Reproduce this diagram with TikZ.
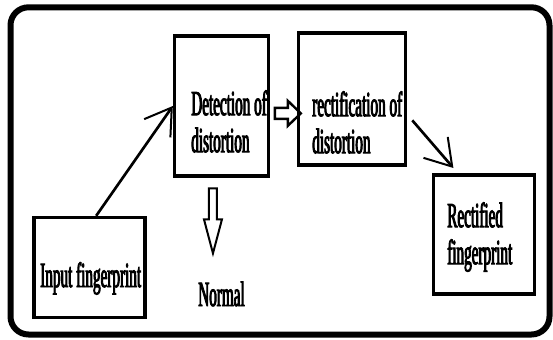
\documentclass[tikz,border=0pt]{standalone}
\usepackage{fontspec}
\usepackage{xcolor}
\usetikzlibrary{arrows.meta,calc}
\newfontfamily\narrowserif[FakeStretch=0.43,FakeBold=2.5]{Liberation Serif}
\tikzset{
  box/.style={draw, line width=2.5pt, inner sep=0pt},
  boxtext/.style={align=left, inner sep=0pt, font=\narrowserif\fontsize{26.5}{27.75}\selectfont},
  flow/.style={line width=2pt, -{Straight Barb[length=19pt,width=24pt,line width=1.5pt]}},
  hollow/.style={line width=1.8pt, line join=miter},
}

\begin{document}
\begin{tikzpicture}[x=0.75pt,y=0.75pt,yscale=-1,xscale=1]
\useasboundingbox (0,0) rectangle (553,339);

%Shape: Rounded Rectangle [frame]
\draw [line width=4.5pt, rounded corners=13.5pt] (10.5,7.3) rectangle (549.5,334.5);

%Shape: Rectangle [input]
\node [box, minimum width=83.25pt, minimum height=75pt] (inp) at (89.5,267.5) {};
%Shape: Rectangle [detection]
\node [box, minimum width=70.5pt, minimum height=105pt] (det) at (221.5,106) {};
%Shape: Rectangle [rectification]
\node [box, minimum width=79.9pt, minimum height=99pt] (rect) at (352,99) {};
%Shape: Rectangle [output]
\node [box, minimum width=75.4pt, minimum height=89.25pt] (out) at (484,234.5) {};

%Straight Lines [input -> detection]
\draw [flow] ([xshift=5pt]inp.north) -- (det.west);
%Straight Lines [rectification -> output]
\draw [flow] ([shift={(4pt,16pt)}]rect.east) -- ([shift={(16pt,-4pt)}]out.north west);

%Shape: Hollow arrow [detection -> rectification]
\coordinate (h1) at ([shift={(3.5pt,5.5pt)}]det.east);
\draw [hollow] (h1) ++(0,-5.5) -- ++(13,0) -- ++(0,-7) -- ++(13,12.5) -- ++(-13,12.5) -- ++(0,-7) -- ++(-13,0) -- cycle;
%Shape: Hollow arrow [detection -> normal]
\coordinate (h2) at ([shift={(-6.4pt,8pt)}]det.south);
\draw [hollow, line width=1.5pt] (h2) ++(-4,0) -- ++(0,31) -- ++(-5,0) -- ++(9,34) -- ++(9,-34) -- ++(-5,0) -- ++(0,-31) -- cycle;

% Text Node
\node [boxtext, anchor=base west] (inptxt) at (40,287) {Input fingerprint};
% Text Node
\node [boxtext, anchor=north west] (dettxt) at (191,90) {Detection of\\distortion};
% Text Node
\node [boxtext, anchor=north west] (recttxt) at (312,91) {rectification of\\distortion};
% Text Node
\node [boxtext, anchor=north west] (outtxt) at (447,202) {Rectified\\fingerprint};
% Text Node
\node [boxtext, anchor=base west] (normal) at (198,306) {Normal};

\end{tikzpicture}
\end{document}
